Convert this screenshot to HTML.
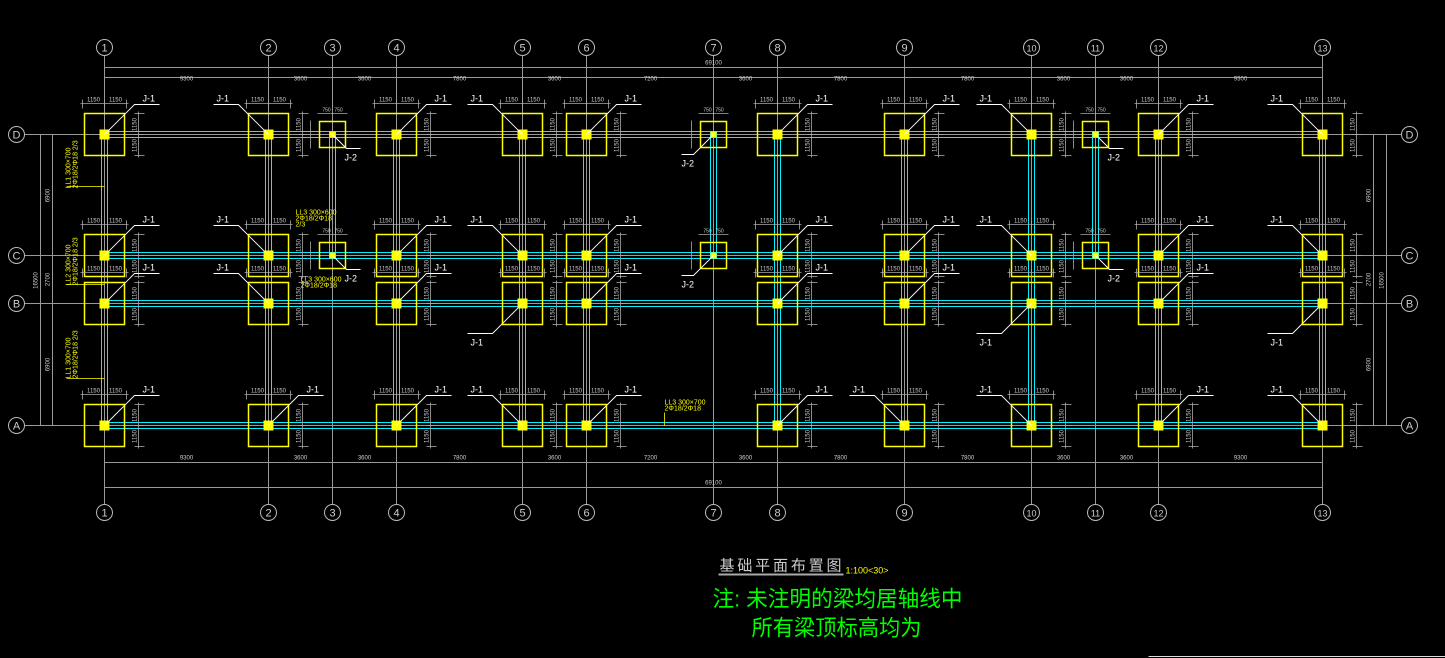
<!DOCTYPE html>
<html><head><meta charset="utf-8"><style>
html,body{margin:0;padding:0;background:#000;width:1445px;height:658px;overflow:hidden}
svg{display:block}
text{font-family:"Liberation Sans",sans-serif}
</style></head><body>
<svg width="1445" height="658" viewBox="0 0 1445 658" xmlns="http://www.w3.org/2000/svg">
<defs>
<g id="F1">
<rect x="-20" y="-21" width="40" height="42" fill="none" stroke="#ffff00" stroke-width="1.5"/>
<rect x="-5" y="-5" width="10" height="10" fill="#ffff00"/>
<g stroke="#aaa" stroke-width="0.8" fill="none">
<line x1="-24" y1="-31" x2="24" y2="-31"/><line x1="-22" y1="-35" x2="-22" y2="-26"/><line x1="0" y1="-35" x2="0" y2="-26"/><line x1="22" y1="-35" x2="22" y2="-26"/>
<line x1="34" y1="-23" x2="34" y2="23"/><line x1="30" y1="-21" x2="40" y2="-21"/><line x1="30" y1="0" x2="40" y2="0"/><line x1="30" y1="21" x2="40" y2="21"/>
</g>
<text x="-11" y="-33" font-size="6" fill="#ccc" text-anchor="middle">1150</text>
<text x="11" y="-33" font-size="6" fill="#ccc" text-anchor="middle">1150</text>
<text transform="translate(32,-10) rotate(-90)" font-size="6" fill="#ccc" text-anchor="middle">1150</text>
<text transform="translate(32,11) rotate(-90)" font-size="6" fill="#ccc" text-anchor="middle">1150</text>
</g>
<g id="F2">
<rect x="-13" y="-13" width="26" height="26" fill="none" stroke="#ffff00" stroke-width="1.5"/>
<rect x="-3" y="-3" width="6" height="6" fill="#ffff00"/>
<g stroke="#aaa" stroke-width="0.8"><line x1="-15" y1="-21" x2="15" y2="-21"/><line x1="-22" y1="-14" x2="-22" y2="14"/></g>
<text x="-6" y="-23" font-size="5" fill="#ccc" text-anchor="middle">750</text>
<text x="6" y="-23" font-size="5" fill="#ccc" text-anchor="middle">750</text>
</g>
<g id="LR"><polyline points="0,0 30,-30 55,-30" fill="none" stroke="#fff" stroke-width="0.9"/><text x="38" y="-33" font-size="9" fill="#fff">J-1</text></g>
<g id="LL"><polyline points="0,0 -30,-30 -55,-30" fill="none" stroke="#fff" stroke-width="0.9"/><text x="-52" y="-33" font-size="9" fill="#fff">J-1</text></g>
<g id="LD"><polyline points="0,0 -30,30 -55,30" fill="none" stroke="#fff" stroke-width="0.9"/><text x="-52" y="42" font-size="9" fill="#fff">J-1</text></g>
<g id="L2"><polyline points="0,0 14,14 28,14" fill="none" stroke="#fff" stroke-width="0.9"/><text x="12" y="26" font-size="9" fill="#fff">J-2</text></g>
<g id="L2b"><polyline points="0,0 -20,20 -32,20" fill="none" stroke="#fff" stroke-width="0.9"/><text x="-32" y="32" font-size="9" fill="#fff">J-2</text></g>
</defs>
<g transform="translate(0.5,0.5)">
<!-- axis lines -->
<g stroke="#999" stroke-width="1">
<line x1="104" y1="55" x2="104" y2="504"/><line x1="268" y1="55" x2="268" y2="504"/><line x1="332" y1="55" x2="332" y2="504"/><line x1="396" y1="55" x2="396" y2="504"/><line x1="522" y1="55" x2="522" y2="504"/><line x1="586" y1="55" x2="586" y2="504"/><line x1="713" y1="55" x2="713" y2="504"/><line x1="777" y1="55" x2="777" y2="504"/><line x1="904" y1="55" x2="904" y2="504"/><line x1="1031" y1="55" x2="1031" y2="504"/><line x1="1095" y1="55" x2="1095" y2="504"/><line x1="1158" y1="55" x2="1158" y2="504"/><line x1="1322" y1="55" x2="1322" y2="504"/>
<line x1="24" y1="134" x2="1401" y2="134"/><line x1="24" y1="255" x2="1401" y2="255"/><line x1="24" y1="303" x2="1401" y2="303"/><line x1="24" y1="425" x2="1401" y2="425"/>
<line x1="104" y1="67" x2="1322" y2="67"/><line x1="104" y1="77" x2="1322" y2="77"/>
<line x1="104" y1="462" x2="1322" y2="462"/><line x1="104" y1="487" x2="1322" y2="487"/>
<line x1="40" y1="134" x2="40" y2="425"/><line x1="52" y1="134" x2="52" y2="425"/>
<line x1="1373" y1="134" x2="1373" y2="425"/><line x1="1386" y1="134" x2="1386" y2="425"/>
<line x1="34" y1="134" x2="58" y2="134"/><line x1="34" y1="255" x2="58" y2="255"/><line x1="34" y1="303" x2="58" y2="303"/><line x1="34" y1="425" x2="58" y2="425"/>
<line x1="1367" y1="134" x2="1392" y2="134"/><line x1="1367" y1="255" x2="1392" y2="255"/><line x1="1367" y1="303" x2="1392" y2="303"/><line x1="1367" y1="425" x2="1392" y2="425"/>
</g>
<g font-size="6" fill="#ccc" text-anchor="middle">
<text x="713" y="64">69100</text><text x="713" y="484">69100</text>
<text x="186" y="80">9300</text><text x="300" y="80">3600</text><text x="364" y="80">3600</text><text x="459" y="80">7800</text><text x="554" y="80">3600</text><text x="650" y="80">7200</text><text x="745" y="80">3600</text><text x="840" y="80">7800</text><text x="967" y="80">7800</text><text x="1063" y="80">3600</text><text x="1126" y="80">3600</text><text x="1240" y="80">9300</text>
<text x="186" y="459">9300</text><text x="300" y="459">3600</text><text x="364" y="459">3600</text><text x="459" y="459">7800</text><text x="554" y="459">3600</text><text x="650" y="459">7200</text><text x="745" y="459">3600</text><text x="840" y="459">7800</text><text x="967" y="459">7800</text><text x="1063" y="459">3600</text><text x="1126" y="459">3600</text><text x="1240" y="459">9300</text>
<text transform="translate(49,195) rotate(-90)">6900</text><text transform="translate(49,279) rotate(-90)">2700</text><text transform="translate(49,364) rotate(-90)">6900</text><text transform="translate(37,280) rotate(-90)">16500</text>
<text transform="translate(1370,195) rotate(-90)">6900</text><text transform="translate(1370,279) rotate(-90)">2700</text><text transform="translate(1370,364) rotate(-90)">6900</text><text transform="translate(1383,280) rotate(-90)">16500</text>
</g>

<g stroke="#00f0ff" stroke-width="1" fill="none">
<line x1="100" y1="131" x2="1326" y2="131"/><line x1="100" y1="137" x2="1326" y2="137"/>
<line x1="100" y1="252" x2="1326" y2="252"/><line x1="100" y1="258" x2="1326" y2="258"/>
<line x1="100" y1="300" x2="1326" y2="300"/><line x1="100" y1="306" x2="1326" y2="306"/>
<line x1="100" y1="422" x2="1326" y2="422"/><line x1="100" y1="428" x2="1326" y2="428"/>
<line x1="101" y1="131" x2="101" y2="428"/><line x1="107" y1="131" x2="107" y2="428"/>
<line x1="265" y1="131" x2="265" y2="428"/><line x1="271" y1="131" x2="271" y2="428"/>
<line x1="393" y1="131" x2="393" y2="428"/><line x1="399" y1="131" x2="399" y2="428"/>
<line x1="519" y1="131" x2="519" y2="428"/><line x1="525" y1="131" x2="525" y2="428"/>
<line x1="583" y1="131" x2="583" y2="428"/><line x1="589" y1="131" x2="589" y2="428"/>
<line x1="774" y1="131" x2="774" y2="428"/><line x1="780" y1="131" x2="780" y2="428"/>
<line x1="901" y1="131" x2="901" y2="428"/><line x1="907" y1="131" x2="907" y2="428"/>
<line x1="1028" y1="131" x2="1028" y2="428"/><line x1="1034" y1="131" x2="1034" y2="428"/>
<line x1="1155" y1="131" x2="1155" y2="428"/><line x1="1161" y1="131" x2="1161" y2="428"/>
<line x1="1319" y1="131" x2="1319" y2="428"/><line x1="1325" y1="131" x2="1325" y2="428"/>
<line x1="329" y1="131" x2="329" y2="258"/><line x1="335" y1="131" x2="335" y2="258"/>
<line x1="710" y1="131" x2="710" y2="258"/><line x1="716" y1="131" x2="716" y2="258"/>
<line x1="1092" y1="131" x2="1092" y2="258"/><line x1="1098" y1="131" x2="1098" y2="258"/>
</g>

<use href="#F1" x="104" y="134"/><use href="#F1" x="268" y="134"/><use href="#F1" x="396" y="134"/><use href="#F1" x="522" y="134"/><use href="#F1" x="586" y="134"/><use href="#F1" x="777" y="134"/><use href="#F1" x="904" y="134"/><use href="#F1" x="1031" y="134"/><use href="#F1" x="1158" y="134"/><use href="#F1" x="1322" y="134"/>
<use href="#F1" x="104" y="255"/><use href="#F1" x="268" y="255"/><use href="#F1" x="396" y="255"/><use href="#F1" x="522" y="255"/><use href="#F1" x="586" y="255"/><use href="#F1" x="777" y="255"/><use href="#F1" x="904" y="255"/><use href="#F1" x="1031" y="255"/><use href="#F1" x="1158" y="255"/><use href="#F1" x="1322" y="255"/>
<use href="#F1" x="104" y="303"/><use href="#F1" x="268" y="303"/><use href="#F1" x="396" y="303"/><use href="#F1" x="522" y="303"/><use href="#F1" x="586" y="303"/><use href="#F1" x="777" y="303"/><use href="#F1" x="904" y="303"/><use href="#F1" x="1031" y="303"/><use href="#F1" x="1158" y="303"/><use href="#F1" x="1322" y="303"/>
<use href="#F1" x="104" y="425"/><use href="#F1" x="268" y="425"/><use href="#F1" x="396" y="425"/><use href="#F1" x="522" y="425"/><use href="#F1" x="586" y="425"/><use href="#F1" x="777" y="425"/><use href="#F1" x="904" y="425"/><use href="#F1" x="1031" y="425"/><use href="#F1" x="1158" y="425"/><use href="#F1" x="1322" y="425"/>
<use href="#F2" x="332" y="134"/><use href="#F2" x="332" y="255"/><use href="#F2" x="713" y="134"/><use href="#F2" x="713" y="255"/><use href="#F2" x="1095" y="134"/><use href="#F2" x="1095" y="255"/>
<use href="#L2" x="332" y="134"/><use href="#L2" x="332" y="255"/><use href="#L2b" x="713" y="134"/><use href="#L2b" x="713" y="255"/><use href="#L2" x="1095" y="134"/><use href="#L2" x="1095" y="255"/>

<use href="#LR" x="104" y="134"/><use href="#LL" x="268" y="134"/><use href="#LR" x="396" y="134"/><use href="#LL" x="522" y="134"/><use href="#LR" x="586" y="134"/><use href="#LR" x="777" y="134"/><use href="#LR" x="904" y="134"/><use href="#LL" x="1031" y="134"/><use href="#LR" x="1158" y="134"/><use href="#LL" x="1322" y="134"/>
<use href="#LR" x="104" y="255"/><use href="#LL" x="268" y="255"/><use href="#LR" x="396" y="255"/><use href="#LL" x="522" y="255"/><use href="#LR" x="586" y="255"/><use href="#LR" x="777" y="255"/><use href="#LR" x="904" y="255"/><use href="#LL" x="1031" y="255"/><use href="#LR" x="1158" y="255"/><use href="#LL" x="1322" y="255"/>
<use href="#LR" x="104" y="303"/><use href="#LL" x="268" y="303"/><use href="#LR" x="396" y="303"/><use href="#LD" x="522" y="303"/><use href="#LR" x="586" y="303"/><use href="#LR" x="777" y="303"/><use href="#LR" x="904" y="303"/><use href="#LD" x="1031" y="303"/><use href="#LR" x="1158" y="303"/><use href="#LD" x="1322" y="303"/>
<use href="#LR" x="104" y="425"/><use href="#LR" x="268" y="425"/><use href="#LR" x="396" y="425"/><use href="#LL" x="522" y="425"/><use href="#LR" x="586" y="425"/><use href="#LR" x="777" y="425"/><use href="#LL" x="904" y="425"/><use href="#LL" x="1031" y="425"/><use href="#LR" x="1158" y="425"/><use href="#LL" x="1322" y="425"/>

<g fill="#ffff00" font-size="7">
<text transform="translate(70,188) rotate(-90)">LL1 300×700</text>
<text transform="translate(77,188) rotate(-90)">2Φ18/2Φ18 2/3</text>
<text transform="translate(70,285) rotate(-90)">LL2 300×700</text>
<text transform="translate(77,285) rotate(-90)">2Φ18/2Φ18 2/3</text>
<text transform="translate(70,378) rotate(-90)">LL1 300×700</text>
<text transform="translate(77,378) rotate(-90)">2Φ18/2Φ18 2/3</text>
<text x="295" y="214">LL3 300×600</text><text x="295" y="220">2Φ18/2Φ18</text><text x="295" y="226">2/3</text>
<text x="300" y="281">LL3 300×600</text><text x="300" y="287">2Φ18/2Φ18</text>
<text x="664" y="404">LL3 300×700</text><text x="664" y="410">2Φ18/2Φ18</text>
</g>
<g stroke="#ffff00" stroke-width="0.8"><line x1="66" y1="186" x2="104" y2="186"/><line x1="66" y1="284" x2="104" y2="284"/><line x1="66" y1="378" x2="104" y2="378"/><line x1="664" y1="412" x2="664" y2="425"/></g>

<g fill="none" stroke="#bbb" stroke-width="1">
<circle cx="104" cy="47" r="8"/><circle cx="268" cy="47" r="8"/><circle cx="332" cy="47" r="8"/><circle cx="396" cy="47" r="8"/><circle cx="522" cy="47" r="8"/><circle cx="586" cy="47" r="8"/><circle cx="713" cy="47" r="8"/><circle cx="777" cy="47" r="8"/><circle cx="904" cy="47" r="8"/><circle cx="1031" cy="47" r="8"/><circle cx="1095" cy="47" r="8"/><circle cx="1158" cy="47" r="8"/><circle cx="1322" cy="47" r="8"/>
<circle cx="104" cy="512" r="8"/><circle cx="268" cy="512" r="8"/><circle cx="332" cy="512" r="8"/><circle cx="396" cy="512" r="8"/><circle cx="522" cy="512" r="8"/><circle cx="586" cy="512" r="8"/><circle cx="713" cy="512" r="8"/><circle cx="777" cy="512" r="8"/><circle cx="904" cy="512" r="8"/><circle cx="1031" cy="512" r="8"/><circle cx="1095" cy="512" r="8"/><circle cx="1158" cy="512" r="8"/><circle cx="1322" cy="512" r="8"/>
<circle cx="16" cy="134" r="8"/><circle cx="16" cy="255" r="8"/><circle cx="16" cy="303" r="8"/><circle cx="16" cy="425" r="8"/>
<circle cx="1409" cy="134" r="8"/><circle cx="1409" cy="255" r="8"/><circle cx="1409" cy="303" r="8"/><circle cx="1409" cy="425" r="8"/>
</g>
<g fill="#ccc" font-size="11" text-anchor="middle">
<text x="104" y="51">1</text><text x="268" y="51">2</text><text x="332" y="51">3</text><text x="396" y="51">4</text><text x="522" y="51">5</text><text x="586" y="51">6</text><text x="713" y="51">7</text><text x="777" y="51">8</text><text x="904" y="51">9</text><text x="1031" y="51" font-size="9">10</text><text x="1095" y="51" font-size="9">11</text><text x="1158" y="51" font-size="9">12</text><text x="1322" y="51" font-size="9">13</text>
<text x="104" y="516">1</text><text x="268" y="516">2</text><text x="332" y="516">3</text><text x="396" y="516">4</text><text x="522" y="516">5</text><text x="586" y="516">6</text><text x="713" y="516">7</text><text x="777" y="516">8</text><text x="904" y="516">9</text><text x="1031" y="516" font-size="9">10</text><text x="1095" y="516" font-size="9">11</text><text x="1158" y="516" font-size="9">12</text><text x="1322" y="516" font-size="9">13</text>
<text x="16" y="138">D</text><text x="16" y="259">C</text><text x="16" y="307">B</text><text x="16" y="429">A</text>
<text x="1409" y="138">D</text><text x="1409" y="259">C</text><text x="1409" y="307">B</text><text x="1409" y="429">A</text>
</g>

<text x="719" y="570" font-size="15" fill="#ccc" font-family="'Liberation Sans','Noto Sans CJK SC',sans-serif" textLength="122" lengthAdjust="spacing">基础平面布置图</text>
<line x1="718" y1="574" x2="843" y2="574" stroke="#aaa" stroke-width="2"/>
<text x="845" y="573" font-size="9" fill="#ffff00">1:100&lt;30&gt;</text>
<text x="712" y="606" font-size="22" fill="#00ff00" font-family="'Liberation Sans','Noto Sans CJK SC',sans-serif" textLength="250" lengthAdjust="spacingAndGlyphs">注: 未注明的梁均居轴线中</text>
<text x="751" y="635" font-size="22" fill="#00ff00" font-family="'Liberation Sans','Noto Sans CJK SC',sans-serif" textLength="170" lengthAdjust="spacingAndGlyphs">所有梁顶标高均为</text>
<g stroke="#ddd" stroke-width="1"><line x1="1148" y1="656" x2="1445" y2="656"/></g>
</g>
</svg>
</body></html>
